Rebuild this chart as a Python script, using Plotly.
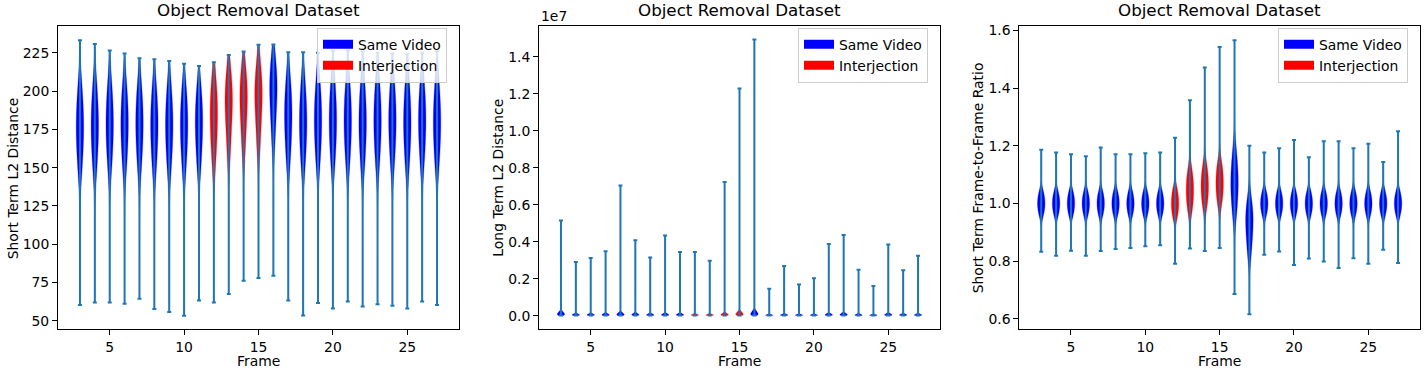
import plotly.graph_objects as go

# ---------------- data ----------------
frames = list(range(3, 28))
interjection_frames = [12, 13, 14, 15]

# Panel 1: Short Term L2 Distance
st_min = [60.3, 62.0, 62.0, 61.2, 64.4, 57.7, 55.8, 53.4, 63.3, 62.0, 67.6, 76.2, 77.9,
          79.4, 63.3, 53.5, 61.6, 58.1, 62.6, 59.4, 60.9, 59.9, 58.1, 62.6, 60.3]
st_max = [233.2, 230.8, 226.5, 224.6, 221.4, 220.8, 219.7, 217.8, 216.3, 218.8, 223.5, 225.9, 230.2,
          230.4, 225.3, 225.3, 225.0, 226.3, 226.5, 226.0, 225.0, 224.5, 224.0, 225.0, 226.0]
# interior quantiles (10, 25, 50, 75, 90 %)
st_q = [
    [150, 166, 176, 186, 201], [151, 167, 177, 187, 202], [152, 168, 178, 188, 203],
    [152, 168, 178, 188, 202], [152, 168, 178, 188, 202], [151, 167, 177, 187, 201],
    [151, 167, 177, 187, 201], [151, 167, 177, 187, 200], [152, 168, 178, 188, 200],
    [155, 172, 183, 193, 205], [161, 180, 191, 200, 209], [163, 182, 193, 202, 211],
    [165, 184, 195, 204, 213], [169, 188, 199, 208, 217], [156, 172, 183, 193, 206],
    [153, 169, 179, 189, 204], [154, 170, 180, 190, 204], [154, 170, 180, 190, 205],
    [154, 170, 180, 190, 204], [153, 169, 179, 189, 204], [154, 170, 180, 190, 204],
    [154, 170, 180, 190, 204], [153, 169, 179, 189, 204], [154, 170, 180, 190, 204],
    [153, 169, 179, 189, 204],
]

# Panel 2: Long Term L2 Distance
lt_min = [8e3, 6e3, 6e3, 7e3, 8e3, 6e3, 6e3, 7e3, 6e3, 5e3, 5e3, 7e3, 8e3,
          9e3, 4e3, 5e3, 5e3, 5e3, 6e3, 7e3, 5e3, 4e3, 6e3, 5e3, 5e3]
lt_max = [5.15e6, 2.90e6, 3.12e6, 3.49e6, 7.04e6, 4.08e6, 3.15e6, 4.33e6, 3.44e6, 3.44e6, 2.97e6, 7.23e6, 1.229e7,
          1.494e7, 1.46e6, 2.69e6, 1.69e6, 2.03e6, 3.87e6, 4.36e6, 2.49e6, 1.60e6, 3.85e6, 2.46e6, 3.24e6]
lt_q = [
    [2.0e4, 5.0e4, 9.0e4, 1.5e5, 2.3e5], [1.0e4, 2.5e4, 4.5e4, 7.0e4, 1.1e5], [1.0e4, 2.5e4, 4.5e4, 7.0e4, 1.1e5],
    [1.1e4, 2.7e4, 5.0e4, 7.7e4, 1.2e5], [1.5e4, 4.0e4, 7.0e4, 1.15e5, 1.8e5], [1.2e4, 3.0e4, 5.5e4, 8.5e4, 1.35e5],
    [1.0e4, 2.5e4, 4.5e4, 7.0e4, 1.1e5], [1.1e4, 2.7e4, 5.0e4, 7.7e4, 1.2e5], [1.1e4, 2.7e4, 5.0e4, 7.7e4, 1.2e5],
    [8.0e3, 2.0e4, 3.6e4, 5.6e4, 9.0e4], [8.0e3, 2.0e4, 3.6e4, 5.6e4, 9.0e4], [1.3e4, 3.3e4, 6.0e4, 9.5e4, 1.5e5],
    [2.0e4, 5.0e4, 9.0e4, 1.5e5, 2.3e5], [2.5e4, 6.0e4, 1.1e5, 1.8e5, 2.8e5], [6.0e3, 1.5e4, 2.7e4, 4.2e4, 6.6e4],
    [8.0e3, 2.0e4, 3.6e4, 5.6e4, 9.0e4], [7.0e3, 1.8e4, 3.2e4, 5.0e4, 7.8e4], [7.0e3, 1.8e4, 3.2e4, 5.0e4, 7.8e4],
    [1.1e4, 2.7e4, 5.0e4, 7.7e4, 1.2e5], [1.3e4, 3.3e4, 6.0e4, 9.5e4, 1.5e5], [8.0e3, 2.0e4, 3.6e4, 5.6e4, 9.0e4],
    [6.0e3, 1.5e4, 2.7e4, 4.2e4, 6.6e4], [1.1e4, 2.7e4, 5.0e4, 7.7e4, 1.2e5], [9.0e3, 2.2e4, 4.0e4, 6.2e4, 1.0e5],
    [9.0e3, 2.2e4, 4.0e4, 6.2e4, 1.0e5],
]
lt_tickvals = [0, 2e6, 4e6, 6e6, 8e6, 1.0e7, 1.2e7, 1.4e7]
lt_ticktext = ["0.0", "0.2", "0.4", "0.6", "0.8", "1.0", "1.2", "1.4"]

# Panel 3: Short Term Frame-to-Frame Ratio
fr_min = [0.833, 0.819, 0.836, 0.819, 0.835, 0.842, 0.846, 0.852, 0.855, 0.791, 0.844, 0.835, 0.846,
          0.686, 0.616, 0.822, 0.834, 0.787, 0.809, 0.799, 0.776, 0.810, 0.791, 0.840, 0.794]
fr_max = [1.186, 1.177, 1.171, 1.164, 1.194, 1.171, 1.171, 1.174, 1.177, 1.228, 1.358, 1.471, 1.542,
          1.566, 1.200, 1.177, 1.191, 1.220, 1.160, 1.216, 1.216, 1.191, 1.207, 1.144, 1.250]
fr_q = [
    [0.962, 0.983, 1.0, 1.017, 1.038], [0.962, 0.983, 1.0, 1.017, 1.038], [0.962, 0.983, 1.0, 1.017, 1.038],
    [0.962, 0.983, 1.0, 1.017, 1.038], [0.962, 0.983, 1.0, 1.017, 1.038], [0.962, 0.983, 1.0, 1.017, 1.038],
    [0.962, 0.983, 1.0, 1.017, 1.038], [0.962, 0.983, 1.0, 1.017, 1.038], [0.962, 0.983, 1.0, 1.017, 1.038],
    [0.955, 0.980, 1.0, 1.022, 1.048], [0.980, 1.015, 1.045, 1.075, 1.110], [0.995, 1.030, 1.060, 1.090, 1.125],
    [1.005, 1.040, 1.070, 1.100, 1.135], [0.970, 1.030, 1.070, 1.110, 1.170], [0.830, 0.890, 0.930, 0.965, 1.000],
    [0.962, 0.983, 1.0, 1.017, 1.038], [0.962, 0.983, 1.0, 1.017, 1.038], [0.962, 0.983, 1.0, 1.017, 1.038],
    [0.962, 0.983, 1.0, 1.017, 1.038], [0.962, 0.983, 1.0, 1.017, 1.038], [0.962, 0.983, 1.0, 1.017, 1.038],
    [0.962, 0.983, 1.0, 1.017, 1.038], [0.962, 0.983, 1.0, 1.017, 1.038], [0.962, 0.983, 1.0, 1.017, 1.038],
    [0.962, 0.983, 1.0, 1.017, 1.038],
]

series_names = ["Same Video", "Interjection"]
series_colors = ["blue", "red"]
title_text = "Object Removal Dataset"
x_label = "Frame"
y_labels = ["Short Term L2 Distance", "Long Term L2 Distance", "Short Term Frame-to-Frame Ratio"]

# ---------------- layout geometry ----------------
W, H = 1426, 370
FONT = "DejaVu Sans"
FS = 13.9
LINE_C = "#1f77b4"


def px(xw):
    return xw / W


def py(yw):
    return 1 - yw / H


x_domains = [[px(58), px(459)], [px(539), px(940)], [px(1019.3), px(1420)]]
y_domain = [py(329), py(22.7)]
ytitle_x = [px(13.3), px(497.7), px(978.3)]
y_ranges = [[44.4, 242.2], [-0.0745e7, 1.5645e7], [0.5635, 1.6135]]

panels = [
    (st_min, st_max, st_q),
    (lt_min, lt_max, lt_q),
    (fr_min, fr_max, fr_q),
]

fig = go.Figure()

for p, (mins, maxs, qs) in enumerate(panels):
    xa = "x" if p == 0 else f"x{p + 1}"
    ya = "y" if p == 0 else f"y{p + 1}"
    lg = "legend" if p == 0 else f"legend{p + 1}"
    for i, f in enumerate(frames):
        c = series_colors[1] if f in interjection_frames else series_colors[0]
        fig.add_trace(go.Violin(
            x0=f, y=qs[i], xaxis=xa, yaxis=ya,
            width=0.5, spanmode="manual", span=[mins[i], maxs[i]],
            fillcolor=c, line=dict(color=c, width=0.3), opacity=1,
            points=False, box_visible=False, meanline_visible=False,
            scalemode="width", side="both", showlegend=False, hoverinfo="skip",
        ))
    # extrema bars with caps
    fig.add_trace(go.Scatter(
        x=frames, y=mins, xaxis=xa, yaxis=ya, mode="markers",
        marker=dict(size=1, opacity=0),
        error_y=dict(type="data", symmetric=False,
                     array=[mx - mn for mn, mx in zip(mins, maxs)],
                     arrayminus=[0] * len(frames),
                     color=LINE_C, thickness=2, width=2),
        showlegend=False, hoverinfo="skip",
    ))
    # legend entries
    for name, col in zip(series_names, series_colors):
        fig.add_trace(go.Scatter(
            x=[None], y=[None], xaxis=xa, yaxis=ya, mode="lines",
            line=dict(color=col, width=9), name=name, legend=lg, showlegend=True,
        ))

axis_common = dict(
    showline=True, mirror=True, linecolor="black", linewidth=1,
    ticks="outside", ticklen=5, tickwidth=1, tickcolor="black",
    showgrid=False, zeroline=False,
    tickfont=dict(family=FONT, size=FS, color="black"),
)

layout = dict(
    width=W, height=H, margin=dict(l=0, r=0, t=0, b=0),
    plot_bgcolor="white", paper_bgcolor="white",
    violinmode="overlay",
    font=dict(family=FONT, size=FS, color="black"),
    annotations=[],
)

for p in range(3):
    xk = "xaxis" if p == 0 else f"xaxis{p + 1}"
    yk = "yaxis" if p == 0 else f"yaxis{p + 1}"
    xa = "x" if p == 0 else f"x{p + 1}"
    ya = "y" if p == 0 else f"y{p + 1}"
    lk = "legend" if p == 0 else f"legend{p + 1}"
    layout[xk] = dict(axis_common, domain=x_domains[p], anchor=ya, range=[1.525, 28.475],
                      tickvals=[5, 10, 15, 20, 25])
    ydef = dict(axis_common, domain=y_domain, anchor=xa, range=y_ranges[p])
    if p == 0:
        ydef.update(tickvals=[50, 75, 100, 125, 150, 175, 200, 225])
    elif p == 1:
        ydef.update(tickvals=lt_tickvals, ticktext=lt_ticktext)
    else:
        ydef.update(tickvals=[0.6, 0.8, 1.0, 1.2, 1.4, 1.6], tickformat=".1f")
    layout[yk] = ydef
    right_px = [459, 940, 1420][p]
    layout[lk] = dict(
        x=px(right_px - 12), xanchor="right",
        y=py(24), yanchor="top",
        bgcolor="rgba(255,255,255,0.8)", bordercolor="#cccccc", borderwidth=1,
        font=dict(family=FONT, size=FS, color="black"), itemwidth=30,
        tracegroupgap=0,
    )
    cx = (x_domains[p][0] + x_domains[p][1]) / 2
    layout["annotations"] += [
        dict(text=title_text, xref="paper", yref="paper", x=cx, y=py(6),
             xanchor="center", yanchor="middle", showarrow=False,
             font=dict(family=FONT, size=16.7, color="black")),
        dict(text=x_label, xref="paper", yref="paper", x=cx, y=py(361),
             xanchor="center", yanchor="middle", showarrow=False,
             font=dict(family=FONT, size=FS, color="black")),
        dict(text=y_labels[p], xref="paper", yref="paper", x=ytitle_x[p],
             y=(y_domain[0] + y_domain[1]) / 2, textangle=-90,
             xanchor="center", yanchor="middle", showarrow=False,
             font=dict(family=FONT, size=FS, color="black")),
    ]

layout["annotations"].append(
    dict(text="1e7", xref="paper", yref="paper", x=px(539), y=py(12.5),
         xanchor="left", yanchor="middle", showarrow=False,
         font=dict(family=FONT, size=FS, color="black"))
)

fig.update_layout(**layout)
# remove the default 8px page margin so the figure fills the window exactly
fig.write_html("out.html", config={"displayModeBar": False},
               post_script="document.body.style.margin='0';")
